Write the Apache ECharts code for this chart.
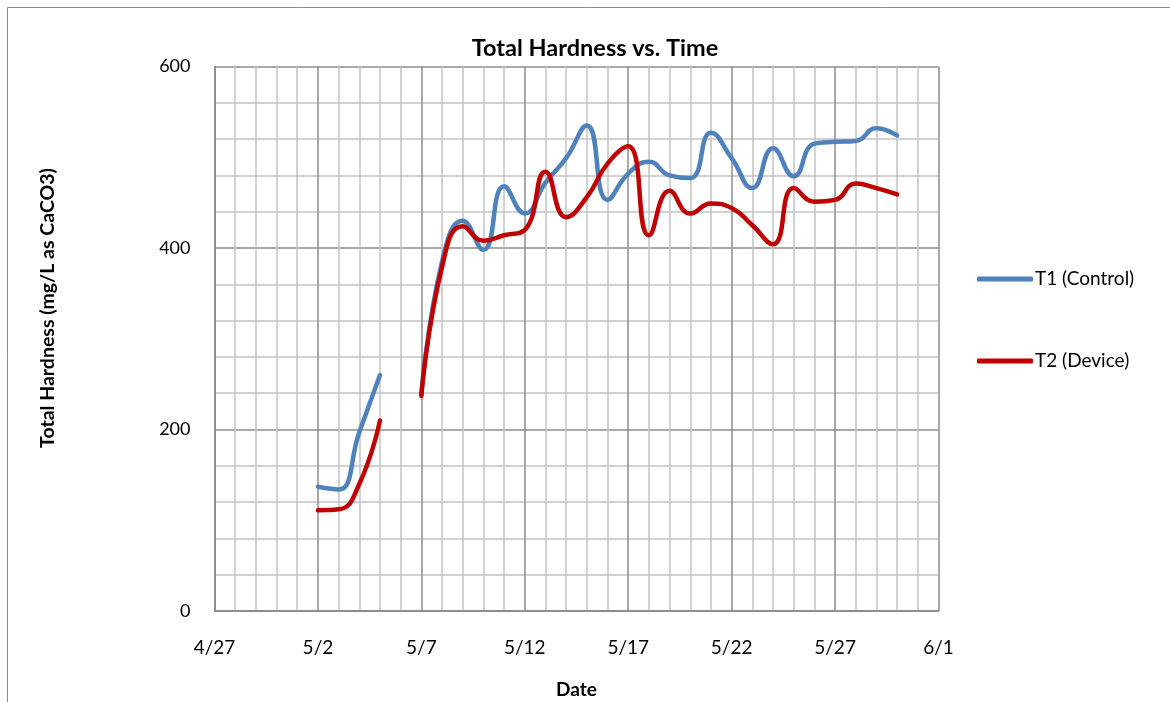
<!DOCTYPE html>
<html>
<head>
<meta charset="utf-8">
<script src="https://cdn.jsdelivr.net/npm/echarts@6/dist/echarts.min.js"></script>
<style>
html,body{margin:0;padding:0;background:#fff;}
#chart{width:1170px;height:702px;}
</style>
</head>
<body>
<div id="chart"></div>
<script>
// ---- data ----
const startDate = '4/27';
const dates = ['5/2','5/3','5/4','5/5','5/6','5/7','5/8','5/9','5/10','5/11','5/12','5/13','5/14','5/15','5/16','5/17','5/18','5/19','5/20','5/21','5/22','5/23','5/24','5/25','5/26','5/27','5/28','5/29','5/30'];
const t1Control = [137,134,197,260,null,238,385,430,398,468,438,472,499,535,453,482,495,480,477,527,499,466,510,479,515,517,518,532,524];
const t2Device  = [111,112,140,210,null,237,379,424,408,414,420,484,434,456,493,512,414,463,438,449,444,425,404,466,451,453,471,466,459];
const xTickLabels = ['4/27','5/2','5/7','5/12','5/17','5/22','5/27','6/1'];
const yTicks = [0,200,400,600];
const yTitle = 'Total Hardness (mg/L as CaCO3)';

function dayOffset(md){
  const [m,d] = md.split('/').map(Number);
  const [m0,d0] = startDate.split('/').map(Number);
  return Math.round((Date.UTC(2012,m-1,d) - Date.UTC(2012,m0-1,d0)) / 86400000);
}
const xs = dates.map(dayOffset);
const s1 = xs.map((x,i)=>[x, t1Control[i]]);
const s2 = xs.map((x,i)=>[x, t2Device[i]]);

const FONT = 'Lato, "Open Sans", sans-serif';
const chart = echarts.init(document.getElementById('chart'), null, {renderer:'canvas'});
chart.setOption({
  backgroundColor:'#fff',
  animation:false,
  textStyle:{fontFamily:FONT},
  graphic:[{
    type:'rect', silent:true,
    shape:{x:7.5,y:7.5,width:1300,height:1000},
    style:{fill:'none',stroke:'#8a8a8a',lineWidth:1}
  },{
    type:'text', silent:true,
    x:48, y:308, rotation:Math.PI/2,
    style:{text:yTitle,fill:'#000',font:'bold 19.5px '+FONT,align:'center',verticalAlign:'middle'}
  }],
  title:{
    text:'Total Hardness vs. Time',
    left:590, top:31, textAlign:'center',
    textStyle:{fontFamily:FONT,fontSize:23.5,fontWeight:'bold',color:'#000'}
  },
  legend:{
    orient:'vertical',
    left:972, top:262,
    itemWidth:56, itemHeight:5, itemGap:58,
    icon:'roundRect',
    textStyle:{fontFamily:FONT,fontSize:19,color:'#000',lineHeight:24,padding:[0,0,0,-3]},
    data:['T1 (Control)','T2 (Device)']
  },
  grid:{left:214.5,top:66.5,right:231.5,bottom:91,containLabel:false,outerBoundsMode:'none'},
  xAxis:{
    type:'value', min:0, max:35, interval:5,
    name:'Date', nameLocation:'middle', nameGap:69,
    nameTextStyle:{fontFamily:FONT,fontSize:19,fontWeight:'bold',color:'#000'},
    axisLine:{show:true,lineStyle:{color:'#868686',width:1.5}},
    axisTick:{show:false},
    axisLabel:{fontFamily:FONT,fontSize:19,color:'#000',margin:27,
      formatter:v=>xTickLabels[Math.round(v/5)]},
    splitLine:{show:true,lineStyle:{color:'#8c8c8c',width:1.5}},
    minorTick:{show:false,splitNumber:5},
    minorSplitLine:{show:true,lineStyle:{color:'#c4c4c4',width:1.5}}
  },
  yAxis:{
    type:'value', min:0, max:600, interval:200,
    axisLine:{show:true,lineStyle:{color:'#868686',width:1.5}},
    axisTick:{show:false},
    axisLabel:{fontFamily:FONT,fontSize:18,color:'#000',margin:24,
      formatter:v=>yTicks.includes(v)?String(v):''},
    splitLine:{show:true,lineStyle:{color:'#8c8c8c',width:1.5}},
    minorTick:{show:false,splitNumber:5},
    minorSplitLine:{show:true,lineStyle:{color:'#c4c4c4',width:1.5}}
  },
  series:[
    {name:'T1 (Control)',type:'line',data:s1,smooth:0.5,symbol:'none',connectNulls:false,
     itemStyle:{color:'#4F81BD'},lineStyle:{color:'#4F81BD',width:4.5,cap:'round',join:'round'}},
    {name:'T2 (Device)',type:'line',data:s2,smooth:0.5,symbol:'none',connectNulls:false,
     itemStyle:{color:'#C00000'},lineStyle:{color:'#C00000',width:4.5,cap:'round',join:'round'}}
  ]
});
</script>
</body>
</html>
